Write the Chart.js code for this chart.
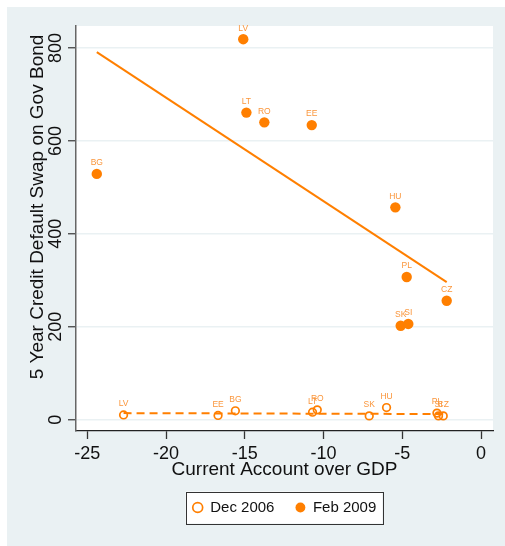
<!DOCTYPE html>
<html>
<head>
<meta charset="utf-8">
<script src="https://cdn.jsdelivr.net/npm/chart.js@4"></script>
<style>
  html, body { margin: 0; padding: 0; background: #ffffff; }
  #wrap { width: 505px; height: 546px; position: relative; }
</style>
</head>
<body>
<div id="wrap"><canvas id="cds" width="505" height="546"></canvas></div>
<script>
// Country codes, shared by both periods
const countries = ['LV', 'EE', 'BG', 'LT', 'RO', 'SK', 'HU', 'PL', 'SI', 'CZ'];

// Current account (% of GDP) and 5y CDS spread, December 2006
const caDec2006  = [-22.7, -16.7, -15.6, -10.7, -10.4, -7.1, -6.0, -2.8, -2.7, -2.4];
const cdsDec2006 = [10, 9, 19, 16, 21, 8, 26, 14, 8, 8];

// Current account (% of GDP) and 5y CDS spread, February 2009
const caFeb2009  = [-15.1, -10.75, -24.4, -14.9, -13.76, -5.1, -5.44, -4.72, -4.62, -2.18];
const cdsFeb2009 = [819, 634, 529, 661, 640, 202, 457, 307, 206, 256];

// Linear fit end points for each period
const fitDecX = [-22.7, -2.4];
const fitDecY = [14, 12];
const fitFebX = [-24.4, -2.18];
const fitFebY = [791, 296];

// Axis tick values
const xTicks = [-25, -20, -15, -10, -5, 0];
const yTicks = [0, 200, 400, 600, 800];

const seriesNames = ['Dec 2006', 'Feb 2009'];

const ORANGE = 'rgb(255,127,0)';
const LABEL_ORANGE = 'rgb(250,150,60)';
const PANEL = '#EAF1F3';
const FONT = '"Liberation Sans", Arial, sans-serif';

const toPoints = (xs, ys) => xs.map((x, i) => ({ x: x, y: ys[i] }));

// Background panel, white plot region and the framed legend box
const backdrop = {
  id: 'backdrop',
  beforeDraw(chart) {
    const { ctx, chartArea: a } = chart;
    ctx.save();
    ctx.fillStyle = PANEL;
    ctx.fillRect(7, 7, chart.width - 7, chart.height - 7);
    ctx.fillStyle = '#ffffff';
    ctx.fillRect(a.left, a.top, a.right - a.left, a.bottom - a.top);
    const hb = chart.legend && chart.legend.legendHitBoxes;
    if (hb && hb.length) {
      const first = hb[0], last = hb[hb.length - 1];
      const left = first.left - 7;
      const right = last.left + last.width + 6;
      const cy = first.top + first.height / 2;
      ctx.fillStyle = '#ffffff';
      ctx.fillRect(left, cy - 16, right - left, 32);
      ctx.strokeStyle = '#333333';
      ctx.lineWidth = 1;
      ctx.strokeRect(Math.round(left) + 0.5, Math.round(cy - 16) + 0.5, Math.round(right - left), 32);
    }
    ctx.restore();
  }
};

// Country code above each marker, plus the rotated y axis title
const annotate = {
  id: 'annotate',
  afterDatasetsDraw(chart) {
    const { ctx } = chart;
    ctx.save();
    ctx.font = '8.5px ' + FONT;
    ctx.fillStyle = LABEL_ORANGE;
    ctx.textAlign = 'center';
    ctx.textBaseline = 'middle';
    [0, 1].forEach(di => {
      const meta = chart.getDatasetMeta(di);
      meta.data.forEach((pt, i) => {
        ctx.fillText(countries[i], pt.x, pt.y - 11);
      });
    });
    ctx.restore();
  },
  afterDraw(chart) {
    const { ctx } = chart;
    ctx.save();
    ctx.translate(38, 207);
    ctx.rotate(-Math.PI / 2);
    ctx.font = '19px ' + FONT;
    ctx.fillStyle = '#111111';
    ctx.textAlign = 'center';
    ctx.textBaseline = 'middle';
    ctx.fillText('5 Year Credit Default Swap on Gov Bond', 0, 0);
    ctx.restore();
  }
};

new Chart(document.getElementById('cds'), {
  type: 'scatter',
  data: {
    datasets: [
      {
        label: seriesNames[0],
        data: toPoints(caDec2006, cdsDec2006),
        pointStyle: 'circle',
        pointRadius: 3.8,
        pointBorderWidth: 1.7,
        borderColor: ORANGE,
        backgroundColor: 'rgba(255,255,255,0)',
        pointBackgroundColor: 'rgba(255,255,255,0)',
        pointBorderColor: ORANGE,
        showLine: false
      },
      {
        label: seriesNames[1],
        data: toPoints(caFeb2009, cdsFeb2009),
        pointStyle: 'circle',
        pointRadius: 5.2,
        pointBorderWidth: 0,
        borderColor: ORANGE,
        backgroundColor: ORANGE,
        pointBackgroundColor: ORANGE,
        pointBorderColor: ORANGE,
        showLine: false
      },
      {
        label: 'fit Dec 2006',
        data: toPoints(fitDecX, fitDecY),
        showLine: true,
        borderColor: ORANGE,
        borderWidth: 2,
        borderDash: [8, 5],
        pointRadius: 0,
        fill: false
      },
      {
        label: 'fit Feb 2009',
        data: toPoints(fitFebX, fitFebY),
        showLine: true,
        borderColor: ORANGE,
        borderWidth: 2,
        pointRadius: 0,
        fill: false
      }
    ]
  },
  options: {
    responsive: false,
    animation: false,
    layout: { padding: { top: 26, right: 12, left: 0, bottom: 21 } },
    plugins: {
      tooltip: { enabled: false },
      title: { display: false },
      legend: {
        display: true,
        position: 'bottom',
        fullSize: false,
        labels: {
          usePointStyle: true,
          boxWidth: 10,
          boxHeight: 7,
          padding: 21,
          color: '#111111',
          font: { family: FONT, size: 15 },
          filter: item => item.datasetIndex < 2,
          sort: (a, b) => a.datasetIndex - b.datasetIndex
        }
      }
    },
    scales: {
      x: {
        type: 'linear',
        position: 'bottom',
        min: -25.72,
        max: 0.76,
        afterBuildTicks: s => { s.ticks = xTicks.map(v => ({ value: v })); },
        afterFit: s => { s.height = 48; },
        grid: {
          drawOnChartArea: false,
          drawTicks: true,
          tickLength: 8,
          tickColor: '#333333',
          tickWidth: 1.3
        },
        border: { display: true, color: '#222222', width: 1.3 },
        ticks: {
          autoSkip: false,
          maxRotation: 0,
          padding: 4,
          color: '#111111',
          font: { family: FONT, size: 18 },
          callback: v => String(v)
        },
        title: {
          display: true,
          text: 'Current Account over GDP',
          color: '#111111',
          font: { family: FONT, size: 19, lineHeight: 1 },
          padding: { top: 0, bottom: 0 }
        }
      },
      y: {
        type: 'linear',
        position: 'left',
        min: -24.5,
        max: 847.4,
        afterBuildTicks: s => { s.ticks = yTicks.map(v => ({ value: v })); },
        afterFit: s => { s.width = 76; },
        grid: {
          color: '#EAF1F3',
          lineWidth: 1.5,
          drawTicks: true,
          tickLength: 8,
          tickColor: '#444444',
          tickWidth: 1.3
        },
        border: { display: true, color: '#666666', width: 1.5 },
        ticks: {
          minRotation: 90,
          maxRotation: 90,
          crossAlign: 'center',
          padding: -3,
          color: '#111111',
          font: { family: FONT, size: 18 },
          callback: v => String(v)
        }
      }
    }
  },
  plugins: [backdrop, annotate]
});
</script>
</body>
</html>
